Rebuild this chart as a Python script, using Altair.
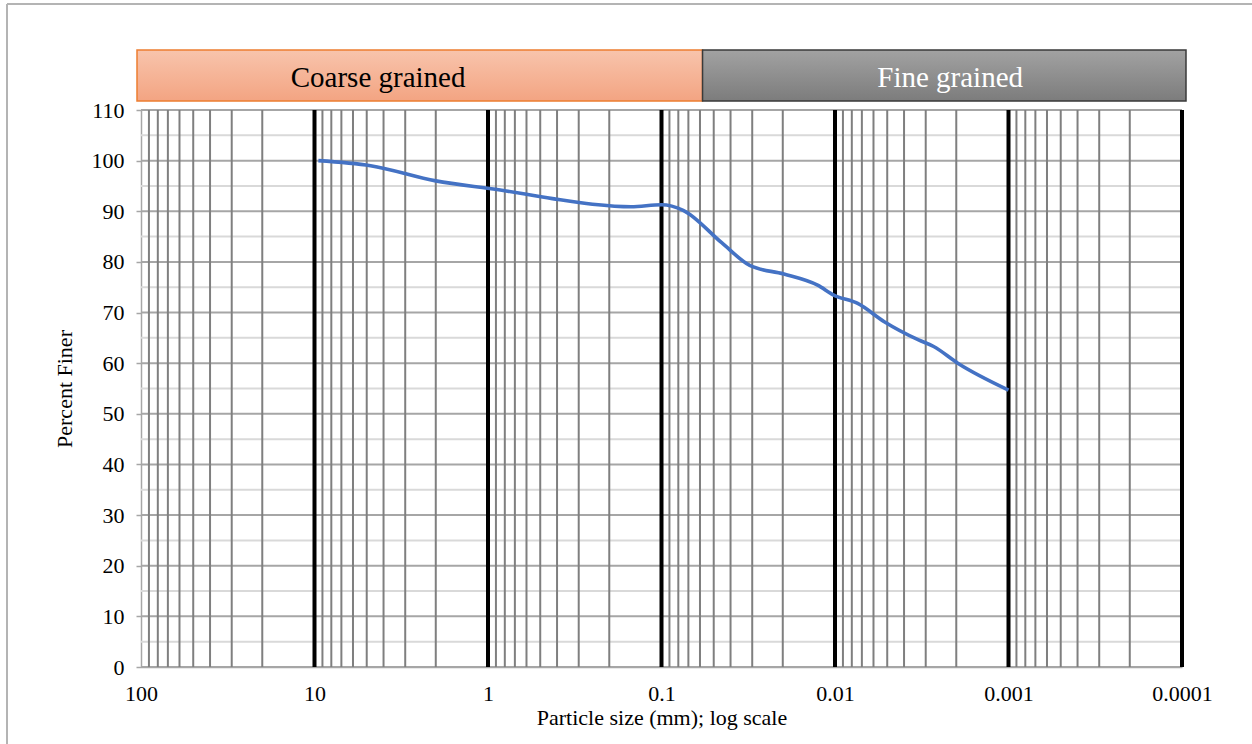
import altair as alt
import pandas as pd

# Grain-size distribution (particle diameter in mm, percent passing)
sizes_mm = [9.5, 4.75, 2.0, 0.85, 0.425, 0.25, 0.15, 0.1, 0.075, 0.045, 0.031,
            0.0197, 0.0126, 0.0101, 0.0074, 0.0052, 0.0033, 0.0027, 0.00196, 0.001]
percent_finer = [100.0, 99.0, 96.0, 94.2, 92.5, 91.4, 90.9, 91.3, 90.2, 83.8, 79.3,
                 77.6, 75.4, 73.4, 71.8, 68.2, 64.6, 63.3, 60.0, 54.7]

# Log grid: heavy lines at each decade, light lines at 2..9 within a decade
decade_lines = [10, 1, 0.1, 0.01, 0.001, 0.0001]
decade_bases = [10, 1, 0.1, 0.01, 0.001, 0.0001]
minor_multipliers = [2, 3, 4, 5, 6, 7, 8, 9]
x_tick_values = [100, 10, 1, 0.1, 0.01, 0.001, 0.0001]

y_major = [0, 10, 20, 30, 40, 50, 60, 70, 80, 90, 100, 110]
y_minor = [5, 15, 25, 35, 45, 55, 65, 75, 85, 95, 105]

# Soil class banner above the plot
band_labels = ["Coarse grained", "Fine grained"]
band_label_pos = [4.3, 0.00217]
band_split = 0.058

FONT = "Liberation Serif"
W, H = 1041, 557

xscale = alt.Scale(type="log", domain=[0.0001, 100], reverse=True, nice=False)
yscale = alt.Scale(domain=[0, 110], nice=False, zero=False)

x_axis = alt.Axis(
    values=x_tick_values,
    format="~g",
    labelFont=FONT,
    labelFontSize=22,
    labelColor="black",
    labelPadding=16,
    labelFlush=False,
    labelOverlap=False,
    ticks=False,
    grid=False,
    domainColor="#a6a6a6",
    domainWidth=1.5,
    title="Particle size (mm); log scale",
    titleFont=FONT,
    titleFontSize=22,
    titleFontWeight="normal",
    titleColor="black",
    titlePadding=3,
)
y_axis = alt.Axis(
    values=y_major,
    labelFont=FONT,
    labelFontSize=22,
    labelColor="black",
    labelPadding=12,
    tickSize=5,
    tickColor="#a6a6a6",
    tickWidth=1.5,
    grid=False,
    domainColor="#a6a6a6",
    domainWidth=1.5,
    title="Percent Finer",
    titleFont=FONT,
    titleFontSize=22,
    titleFontWeight="normal",
    titleColor="black",
    titlePadding=15,
)

curve_df = pd.DataFrame({"size": sizes_mm, "pct": percent_finer})
minor_df = pd.DataFrame({"size": [m * b for b in decade_bases for m in minor_multipliers]})
major_df = pd.DataFrame({"size": decade_lines})
hmaj_df = pd.DataFrame({"pct": y_major})
hmin_df = pd.DataFrame({"pct": y_minor})

h_minor = alt.Chart(hmin_df).mark_rule(color="#d9d9d9", strokeWidth=2).encode(
    y=alt.Y("pct:Q", scale=yscale, axis=y_axis)
)
h_major = alt.Chart(hmaj_df).mark_rule(color="#a6a6a6", strokeWidth=2).encode(
    y=alt.Y("pct:Q", scale=yscale, axis=y_axis)
)
v_minor = alt.Chart(minor_df).mark_rule(color="#7f7f7f", strokeWidth=2).encode(
    x=alt.X("size:Q", scale=xscale, axis=x_axis)
)
v_major = alt.Chart(major_df).mark_rule(color="black", strokeWidth=4).encode(
    x=alt.X("size:Q", scale=xscale, axis=x_axis)
)

curve = alt.Chart(curve_df).mark_line(
    color="#4472C4", strokeWidth=3.6, interpolate="monotone"
).encode(
    x=alt.X("size:Q", scale=xscale, axis=x_axis),
    y=alt.Y("pct:Q", scale=yscale, axis=y_axis),
    order=alt.Order("size:Q", sort="descending"),
)

coarse_fill = {
    "gradient": "linear", "x1": 0, "y1": 0, "x2": 0, "y2": 1,
    "stops": [{"offset": 0, "color": "#F8C4AC"}, {"offset": 1, "color": "#F3A482"}],
}
fine_fill = {
    "gradient": "linear", "x1": 0, "y1": 0, "x2": 0, "y2": 1,
    "stops": [{"offset": 0, "color": "#A2A2A2"}, {"offset": 1, "color": "#7C7C7C"}],
}

coarse_band = alt.Chart(pd.DataFrame({"size": [100], "b": [band_split]})).mark_rect(
    color=coarse_fill, stroke="#ED7D31", strokeWidth=1.5, xOffset=-4
).encode(
    x=alt.X("size:Q", scale=xscale, axis=x_axis), x2="b:Q",
    y=alt.value(-60), y2=alt.value(-9),
)
fine_band = alt.Chart(pd.DataFrame({"size": [band_split], "b": [0.0001]})).mark_rect(
    color=fine_fill, stroke="#3A3A3A", strokeWidth=1.5, x2Offset=4
).encode(
    x=alt.X("size:Q", scale=xscale, axis=x_axis), x2="b:Q",
    y=alt.value(-60), y2=alt.value(-9),
)
band_text = alt.Chart(
    pd.DataFrame({"label": band_labels, "size": band_label_pos,
                  "col": ["black", "white"]})
).mark_text(font=FONT, fontSize=29, baseline="middle", align="center").encode(
    x=alt.X("size:Q", scale=xscale, axis=x_axis),
    y=alt.value(-32),
    text="label:N",
    color=alt.Color("col:N", scale=None),
)

# Light frame around the chart area
frame_left = alt.Chart().mark_rule(color="#b4b4b4", strokeWidth=2).encode(
    x=alt.value(-134), y=alt.value(-106), y2=alt.value(640)
)
frame_top = alt.Chart().mark_rule(color="#b4b4b4", strokeWidth=2).encode(
    x=alt.value(-134), x2=alt.value(1120), y=alt.value(-106)
)

chart = alt.layer(
    h_minor, h_major, v_minor, v_major, curve,
    coarse_band, fine_band, band_text, frame_left, frame_top,
).properties(
    width=W,
    height=H,
    autosize=alt.AutoSizeParams(type="none"),
    padding={"left": 141, "top": 110, "right": 70, "bottom": 77},
    background="white",
).configure_view(stroke=None)

chart.save("out.html", embed_options={"renderer": "svg", "actions": False})
